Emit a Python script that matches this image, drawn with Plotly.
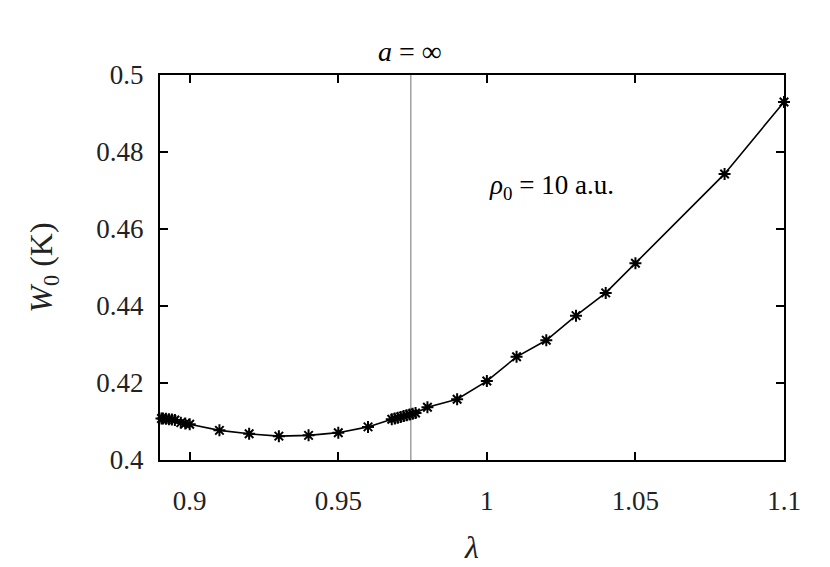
import plotly.graph_objects as go

# lambda values and ground-state energy W0 (K)
lam = [0.8905, 0.891, 0.892, 0.893, 0.894, 0.895, 0.897, 0.8985, 0.9,
       0.91, 0.92, 0.93, 0.94, 0.95, 0.96,
       0.968, 0.969, 0.970, 0.971, 0.972, 0.973, 0.974, 0.975, 0.976,
       0.98, 0.99, 1.0, 1.01, 1.02, 1.03, 1.04, 1.05, 1.08, 1.1]
w0 = [0.4108, 0.4108, 0.4107, 0.4106, 0.4105, 0.4104, 0.4097, 0.4095, 0.4093,
      0.4077, 0.4068, 0.4062, 0.4064, 0.4071, 0.4086,
      0.4106, 0.4108, 0.4110, 0.4112, 0.4114, 0.4116, 0.4118, 0.4120, 0.4122,
      0.4137, 0.4158, 0.4205, 0.4268, 0.4311, 0.4375, 0.4434, 0.4511, 0.4743, 0.4930]

lam_crit = 0.9744  # vertical marker line
x_range = [0.89, 1.1]
y_range = [0.4, 0.5]
x_ticks = [0.9, 0.95, 1.0, 1.05, 1.1]
x_labels = ["0.9", "0.95", "1", "1.05", "1.1"]
y_ticks = [0.4, 0.42, 0.44, 0.46, 0.48, 0.5]
y_labels = ["0.4", "0.42", "0.44", "0.46", "0.48", "0.5"]

FONT = "Liberation Serif"

fig = go.Figure()

# vertical gray line
fig.add_trace(go.Scatter(
    x=[lam_crit, lam_crit], y=y_range,
    mode="lines",
    line=dict(color="#a0a0a0", width=1.5),
    showlegend=False, hoverinfo="skip"
))

fig.add_trace(go.Scatter(
    x=lam, y=w0,
    mode="lines+markers",
    line=dict(color="black", width=1.6),
    marker=dict(symbol="asterisk-open", size=10, color="black",
                line=dict(color="black", width=2)),
    cliponaxis=False,
    showlegend=False
))

fig.add_annotation(
    text="<i>ρ</i><sub>0</sub> = 10 a.u.",
    x=1.0, y=0.4709, xref="x", yref="y",
    xanchor="left", yanchor="middle", showarrow=False,
    font=dict(family=FONT, size=27, color="black")
)

# title "a = ∞"
fig.add_annotation(
    text="<i>a</i> = ∞",
    x=0.4, y=1.06, xref="paper", yref="paper",
    xanchor="center", yanchor="middle", showarrow=False,
    font=dict(family=FONT, size=28, color="black")
)

# page body adds an 8px offset, so the figure is sized a little smaller
fig.update_layout(
    width=822, height=559,
    margin=dict(l=152, r=46, t=67, b=107),
    paper_bgcolor="white",
    plot_bgcolor="white",
    font=dict(family=FONT, size=27, color="#222"),
    xaxis=dict(
        range=x_range,
        tickvals=x_ticks, ticktext=x_labels,
        ticks="inside", ticklen=8, tickwidth=1.5, tickcolor="black",
        showline=True, linecolor="black", linewidth=2, mirror="ticks",
        showgrid=False, zeroline=False, automargin=False,
        ticklabelstandoff=16,
        title=dict(text="<i>λ</i>", standoff=20)
    ),
    yaxis=dict(
        range=y_range,
        tickvals=y_ticks, ticktext=y_labels,
        ticks="inside", ticklen=8, tickwidth=1.5, tickcolor="black",
        showline=True, linecolor="black", linewidth=2, mirror="ticks",
        showgrid=False, zeroline=False, automargin=False,
        ticklabelstandoff=9,
        title=dict(text="<i>W</i><sub>0</sub> (K)", standoff=34)
    )
)

fig.write_html("out.html")
